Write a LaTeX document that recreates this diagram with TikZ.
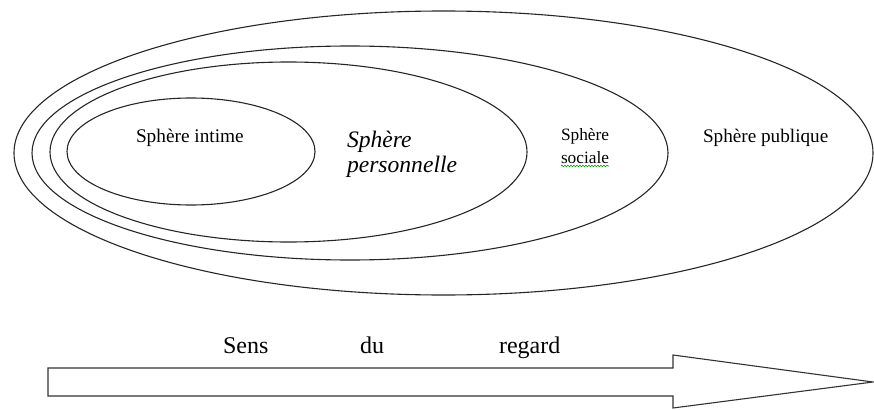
\documentclass[tikz,border=0pt]{standalone}
\usepackage{fontspec}
\setmainfont{Liberation Serif}
\usetikzlibrary{decorations.pathmorphing}
\tikzset{
  sphere/.style={draw=black!85, line width=1.1pt},
  lbl/.style={anchor=base west, inner sep=0pt, outer sep=0pt, text=black},
  sens/.style={lbl, font=\fontsize{24}{26}\selectfont},
  arrowshape/.style={draw=black!80, line width=1.1pt, fill=white, line join=miter},
}
\begin{document}
\begin{tikzpicture}[x=1pt, y=-1pt]
\useasboundingbox (0,0) rectangle (874,409);
% nested spheres
\draw[sphere] (443.5,153) ellipse [x radius=429.5pt, y radius=142pt];
\draw[sphere] (350,153) ellipse [x radius=318pt, y radius=107pt];
\draw[sphere] (288.5,152) ellipse [x radius=238.5pt, y radius=90pt];
\draw[sphere] (191,151.5) ellipse [x radius=124pt, y radius=53.5pt];
% labels
\node[lbl, font=\fontsize{19.3}{22}\selectfont] (intime) at (136,142) {Sphère intime};
\node[lbl, font=\fontsize{23.6}{25}\selectfont\itshape] (perso1) at (347,147) {Sphère};
\node[lbl, font=\fontsize{23.6}{25}\selectfont\itshape] (perso2) at (347,172) {personnelle};
\node[lbl, font=\fontsize{17.3}{20}\selectfont] (soc1) at (561,140) {Sphère};
\node[lbl, font=\fontsize{17.3}{20}\selectfont] (soc2) at (561,163) {sociale};
\node[lbl, font=\fontsize{19.2}{22}\selectfont] (pub) at (703,142) {Sphère publique};
% spell-check squiggle
\draw[green!60!black, line width=0.6pt, decorate, decoration={snake, amplitude=0.8pt, segment length=3pt}]
  ([yshift=-3pt]soc2.base west) -- ([yshift=-3pt]soc2.base east);
% arrow
\draw[arrowshape] (48,368) -- (673,368) -- (673,355) -- (873,382) -- (673,408) -- (673,396) -- (48,396) -- cycle;
\node[sens] (sens) at (223,353) {Sens};
\node[sens] (du) at (360,353) {du};
\node[sens] (regard) at (499,353) {regard};
\end{tikzpicture}
\end{document}
